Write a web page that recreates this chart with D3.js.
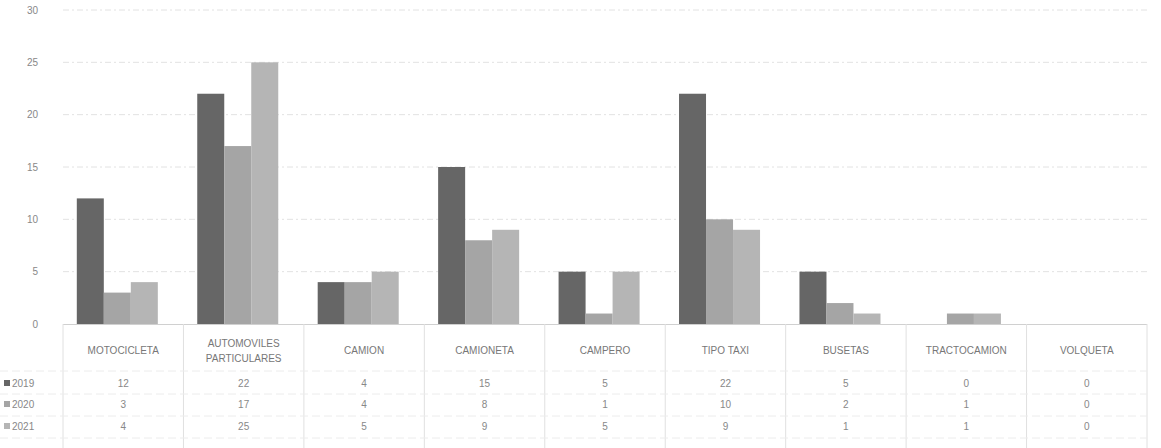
<!DOCTYPE html>
<html>
<head>
<meta charset="utf-8">
<script src="https://cdn.jsdelivr.net/npm/d3@7"></script>
<style>
  body { margin: 0; background: #fff; }
  text { font-family: "Liberation Sans", "DejaVu Sans", sans-serif; }
</style>
</head>
<body>
<svg id="chart" width="1161" height="448"></svg>
<script>
const categories = ["MOTOCICLETA", "AUTOMOVILES PARTICULARES", "CAMION", "CAMIONETA", "CAMPERO", "TIPO TAXI", "BUSETAS", "TRACTOCAMION", "VOLQUETA"];
const series = ["2019", "2020", "2021"];
const values2019 = [12, 22, 4, 15, 5, 22, 5, 0, 0];
const values2020 = [3, 17, 4, 8, 1, 10, 2, 1, 0];
const values2021 = [4, 25, 5, 9, 5, 9, 1, 1, 0];
const yTicks = [0, 5, 10, 15, 20, 25, 30];

const allValues = [values2019, values2020, values2021];
const colours = ["#666666", "#a5a5a5", "#b5b5b5"];

let svg = d3.select("#chart");
let width = 1161;
let margin = {"left": 63, "right": 14, "top": 10};
let zeroY = 324;

let x0 = d3.scaleBand()
	.domain(categories)
	.range([margin.left, width - margin.right])
	.padding(0);
let x1 = d3.scaleBand()
	.domain(series)
	.range([0, x0.bandwidth()])
	.paddingInner(0)
	.paddingOuter(0.73)
	.align(0.35);
let y = d3.scaleLinear()
	.domain([0, 30])
	.range([zeroY, margin.top]);

// gridlines
svg.append("g").selectAll("line")
	.data(yTicks.filter(t => t > 0))
	.enter().append("line")
	.attr("x1", margin.left).attr("x2", width - margin.right)
	.attr("y1", d => y(d)).attr("y2", d => y(d))
	.attr("stroke", "#e2e2e2")
	.attr("stroke-dasharray", "6,3,2,3");

// y axis labels
let yAxis = d3.axisLeft(y).tickValues(yTicks).tickSize(0).tickPadding(0);
let yg = svg.append("g").attr("transform", `translate(38,0)`).call(yAxis);
yg.select(".domain").remove();
yg.selectAll("text").attr("font-size", 10).attr("fill", "#888").attr("font-family", "Liberation Serif, serif");

// bars
let groups = svg.append("g").selectAll("g")
	.data(series)
	.enter().append("g")
	.attr("fill", (d, i) => colours[i]);
groups.selectAll("rect")
	.data((s, i) => allValues[i].map((v, j) => ({cat: categories[j], series: s, value: v})))
	.enter().append("rect")
	.attr("x", d => x0(d.cat) + x1(d.series))
	.attr("y", d => y(d.value))
	.attr("width", x1.bandwidth())
	.attr("height", d => zeroY - y(d.value));

// axis line + table grid
let tableBottom = 448;
svg.append("line")
	.attr("x1", margin.left).attr("x2", width - margin.right)
	.attr("y1", zeroY + 0.5).attr("y2", zeroY + 0.5)
	.attr("stroke", "#d0d0d0");
svg.append("g").selectAll("line")
	.data(d3.range(categories.length + 1))
	.enter().append("line")
	.attr("x1", i => margin.left + i * x0.step())
	.attr("x2", i => margin.left + i * x0.step())
	.attr("y1", zeroY).attr("y2", tableBottom)
	.attr("stroke", "#e0e0e0");
svg.append("g").selectAll("line")
	.data([371, 394, 416, 438])
	.enter().append("line")
	.attr("x1", 0).attr("x2", width - margin.right)
	.attr("y1", d => d).attr("y2", d => d)
	.attr("stroke", "#ececec")
	.attr("stroke-dasharray", "8,4");

// category labels (only the long one wraps)
let catLabels = svg.append("g").selectAll("text")
	.data(categories)
	.enter().append("text")
	.attr("x", d => x0(d) + x0.bandwidth() / 2)
	.attr("y", 354)
	.attr("text-anchor", "middle")
	.attr("font-size", 10)
	.attr("fill", "#777");
catLabels.each(function(d){
	let t = d3.select(this);
	if (d.length > 15){
		let words = d.split(" ");
		t.append("tspan").attr("x", x0(d) + x0.bandwidth() / 2).attr("dy", -7).text(words[0]);
		t.append("tspan").attr("x", x0(d) + x0.bandwidth() / 2).attr("dy", 15).text(words.slice(1).join(" "));
	} else {
		t.text(d);
	}
});

// data table rows
let rowY = [387, 408, 430];
series.forEach(function(s, i){
	let row = svg.append("g");
	row.append("rect")
		.attr("x", 4).attr("y", rowY[i] - 7)
		.attr("width", 6).attr("height", 6)
		.attr("fill", colours[i]);
	row.append("text")
		.attr("x", 12).attr("y", rowY[i])
		.attr("font-size", 10)
		.attr("fill", "#888")
		.text(s);
	row.selectAll(".val")
		.data(allValues[i])
		.enter().append("text")
		.attr("class", "val")
		.attr("x", (v, j) => x0(categories[j]) + x0.bandwidth() / 2)
		.attr("y", rowY[i])
		.attr("text-anchor", "middle")
		.attr("font-size", 10)
		.attr("fill", "#888")
		.text(v => v);
});
</script>
</body>
</html>
